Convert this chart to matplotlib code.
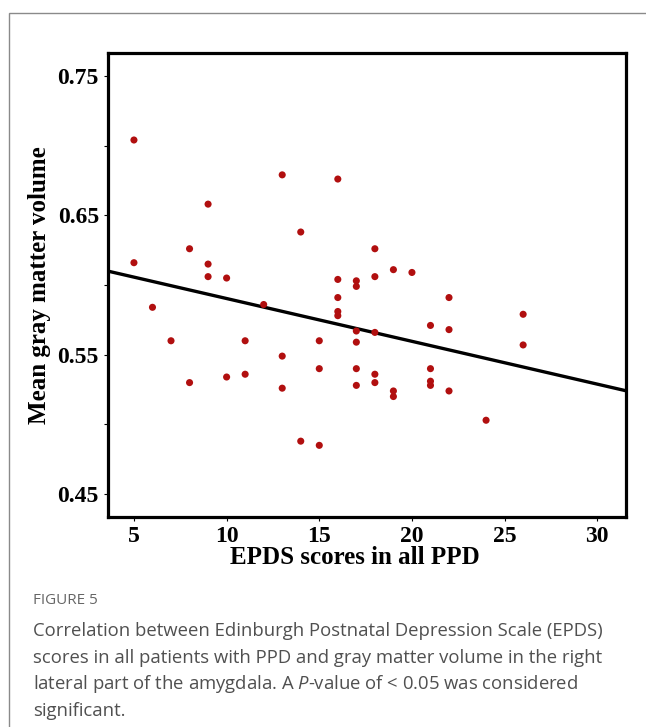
import numpy as np
import matplotlib
matplotlib.use("Agg")
import matplotlib.pyplot as plt
from matplotlib.patches import Rectangle

# EPDS score and mean gray matter volume
epds = [5, 5, 6, 7, 8, 8, 9, 9, 9, 10, 10, 11, 11, 12, 13, 13, 13, 14, 14,
        15, 15, 15, 16, 16, 16, 16, 16, 17, 17, 17, 17, 17, 17,
        18, 18, 18, 18, 18, 19, 19, 19, 20, 21, 21, 21, 21,
        22, 22, 22, 24, 26, 26]
gmv = [0.704, 0.616, 0.584, 0.560, 0.626, 0.530, 0.658, 0.615, 0.606, 0.605,
       0.534, 0.560, 0.536, 0.586, 0.679, 0.549, 0.526, 0.638, 0.488,
       0.560, 0.540, 0.485, 0.676, 0.604, 0.591, 0.581, 0.578, 0.603, 0.599,
       0.567, 0.559, 0.540, 0.528,
       0.626, 0.606, 0.566, 0.536, 0.530, 0.611, 0.524, 0.520, 0.609,
       0.571, 0.540, 0.531, 0.528,
       0.591, 0.568, 0.524, 0.503, 0.579, 0.557]

# regression line as drawn
fit_intercept = 0.621
fit_slope = -0.00307

x_ticks = [5, 10, 15, 20, 25, 30]
y_ticks = [0.45, 0.50, 0.55, 0.60, 0.65, 0.70, 0.75]
y_labels = ["0.45", "", "0.55", "", "0.65", "", "0.75"]

caption_title = "FIGURE 5"
caption_lines = [
    "Correlation between Edinburgh Postnatal Depression Scale (EPDS)",
    "scores in all patients with PPD and gray matter volume in the right",
    "lateral part of the amygdala. A $P$-value of < 0.05 was considered",
    "significant.",
]

plt.rcParams["mathtext.fontset"] = "custom"
plt.rcParams["mathtext.rm"] = "Open Sans"
plt.rcParams["mathtext.it"] = "Open Sans:italic"

W, H = 646, 727
fig = plt.figure(figsize=(W / 100, H / 100), dpi=100)

# grey frame round the figure panel
fig.patches.append(Rectangle((9 / W, -0.1), 1.2, 1 - 13 / H + 0.1,
                             transform=fig.transFigure, fill=False,
                             edgecolor="#8a8a8a", linewidth=1.0))

ax = fig.add_axes([108 / W, 1 - 517 / H, (626 - 108) / W, (517 - 53) / H])

ax.scatter(epds, gmv, s=26, color="#b10f0f", edgecolors="none", zorder=3)

xlim = (3.6, 31.55)
ax.set_xlim(xlim)
ax.set_ylim(0.4336, 0.7664)
xs = np.array(xlim)
ax.plot(xs, fit_intercept + fit_slope * xs, color="black", lw=2.4, zorder=2,
        solid_capstyle="butt")

serif = {"family": "Liberation Serif", "weight": "bold"}
ax.set_xticks(x_ticks)
ax.set_xticklabels([str(v) for v in x_ticks], fontdict=serif, fontsize=17)
ax.set_yticks(y_ticks)
ax.set_yticklabels(y_labels, fontdict=serif, fontsize=17)
ax.tick_params(direction="out", length=3, width=0.8, pad=3.5)
for sp in ax.spines.values():
    sp.set_linewidth(2.3)

ax.set_xlabel("EPDS scores in all PPD", fontdict=serif, fontsize=18, labelpad=-1)
ax.xaxis.label.set_x(0.476)
ax.set_ylabel("Mean gray matter volume", fontdict=serif, fontsize=18, labelpad=5)

fig.text(33 / W, 1 - 600 / H, caption_title, family="Open Sans", fontsize=11,
         color="#666666", va="center")
for i, line in enumerate(caption_lines):
    fig.text(33 / W, 1 - (631 + 26.6 * i) / H, line, family="Open Sans",
             fontsize=13.3, color="#505050", va="center")

fig.savefig("out.png", dpi=100)
